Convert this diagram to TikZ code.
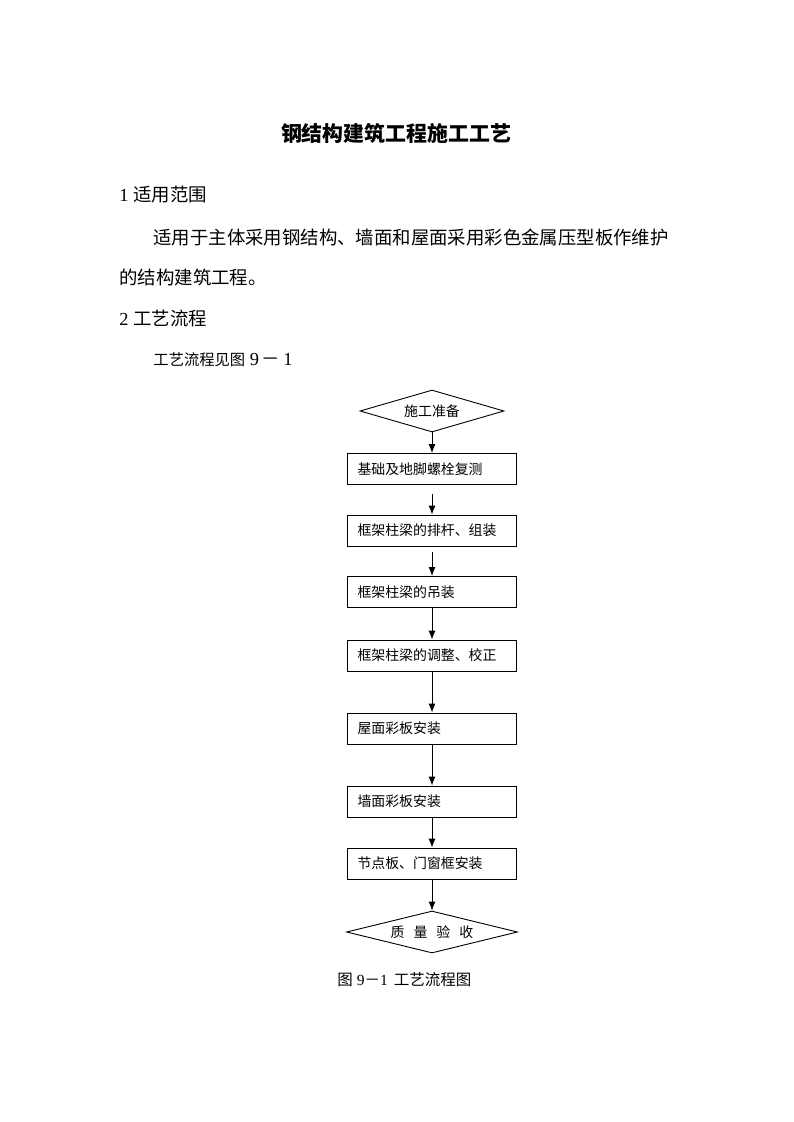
\documentclass[tikz,border=0pt]{standalone}
\usepackage{fontspec}
\setmainfont{Liberation Serif}
\newfontfamily\cjk{Noto Sans CJK SC}
\usetikzlibrary{shapes.geometric,arrows.meta}
\begin{document}
\begin{tikzpicture}[x=1pt,y=-1pt,line width=0.9pt,
  txt/.style={anchor=west,inner sep=0pt,font=\fontsize{18.4}{22}\selectfont},
  stepbox/.style={draw,text width=149pt,inner xsep=10pt,minimum height=31pt,align=left,font=\cjk\fontsize{13.9}{16}\selectfont},
  decide/.style={draw,diamond,inner sep=0pt,aspect=3.4,minimum height=42pt,font=\cjk\fontsize{13.9}{16}\selectfont},
  flow/.style={-{Latex[length=9pt,width=7pt]}}]
\useasboundingbox(0,0)rectangle(793,1122);
% heading and text
\node[font=\cjk\bfseries\fontsize{20.9}{24}\selectfont](title)at(396,133){钢结构建筑工程施工工艺};
\node[txt](h1)at(119,195){1 {\cjk 适用范围}};
\node[txt](p1)at(153,237){\cjk 适用于主体采用钢结构、墙面和屋面采用彩色金属压型板作维护};
\node[txt](p2)at(119,277){\cjk 的结构建筑工程。};
\node[txt](h2)at(119,318){2 {\cjk 工艺流程}};
\node[txt](p3)at(153,360){{\cjk\fontsize{15.3}{18}\selectfont 工艺流程见图} 9{\cjk\hspace{2pt}－\hspace{4pt}}1};
% flow chart
\node[decide,minimum width=144pt](start)at(432,411){施工准备};
\foreach\i/\y/\t in{1/469/基础及地脚螺栓复测,2/530.5/框架柱梁的排杆、组装,3/592/框架柱梁的吊装,4/655.5/框架柱梁的调整、校正,5/728.5/屋面彩板安装,6/801.5/墙面彩板安装,7/863.5/节点板、门窗框安装}
  \node[stepbox](b\i)at(432,\y){\t};
\node[decide,minimum width=171pt](end)at(432,932){质\hspace{9pt}量\hspace{9pt}验\hspace{9pt}收};
\draw[flow](start)--(b1);
\foreach\a/\b/\s in{b1/b2/9,b2/b3/6,b3/b4/0,b4/b5/0,b5/b6/0,b6/b7/0,b7/end/0}
  \draw[flow,shorten <=\s pt](\a)--(\b);
\node[anchor=west,inner sep=0pt,font=\fontsize{15.5}{18}\selectfont](cap)at(337,980){{\cjk 图} 9{\cjk －}1\hspace{6pt}{\cjk 工艺流程图}};
\end{tikzpicture}
\end{document}
